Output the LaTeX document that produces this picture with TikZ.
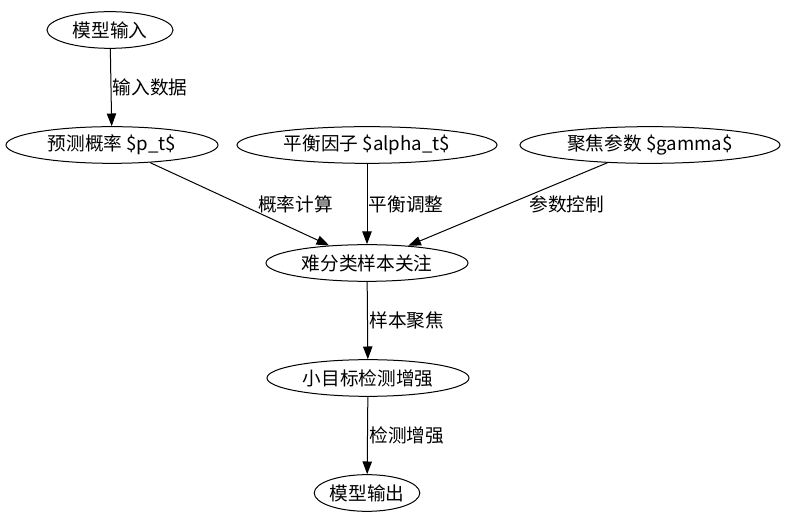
\documentclass[tikz,border=0pt]{standalone}
\usepackage{fontspec}
\setmainfont{Noto Sans CJK SC}
\usetikzlibrary{arrows.meta,shapes.geometric}

\begin{document}
\begin{tikzpicture}[x=0.75pt,y=-0.75pt,
  box/.style={ellipse,draw=black,line width=0.75pt,inner sep=0pt,minimum height=27.5pt,font=\fontsize{14}{16}\selectfont},
  edge/.style={draw=black,line width=0.75pt,-{Triangle[length=9.5pt,width=7pt]}},
  lbl/.style={anchor=west,inner sep=1pt,font=\fontsize{14}{16}\selectfont}
]
\useasboundingbox (0,0) rectangle (785,523);
\node[box,minimum width=94.5pt] (input) at (110,30) {模型输入};
\node[box,minimum width=159pt] (prob) at (112,145) {预测概率 \$p\_t\$};
\node[box,minimum width=195pt] (alpha) at (367,145) {平衡因子 \$alpha\_t\$};
\node[box,minimum width=195pt] (gamma) at (650,145) {聚焦参数 \$gamma\$};
\node[box,minimum width=151.5pt] (hard) at (367,263) {难分类样本关注};
\node[box,minimum width=151.5pt] (small) at (368,378) {小目标检测增强};
\node[box,minimum width=75pt] (output) at (367,493) {模型输出};
\foreach \a/\b/\t/\s in {input/prob/输入数据/0pt,prob/hard/概率计算/12.5pt,alpha/hard/平衡调整/0pt,gamma/hard/参数控制/15pt,hard/small/样本聚焦/0pt,small/output/检测增强/0pt} {
  \draw[edge] (\a) -- node[lbl,xshift=\s] {\t} (\b);
}
\end{tikzpicture}
\end{document}
